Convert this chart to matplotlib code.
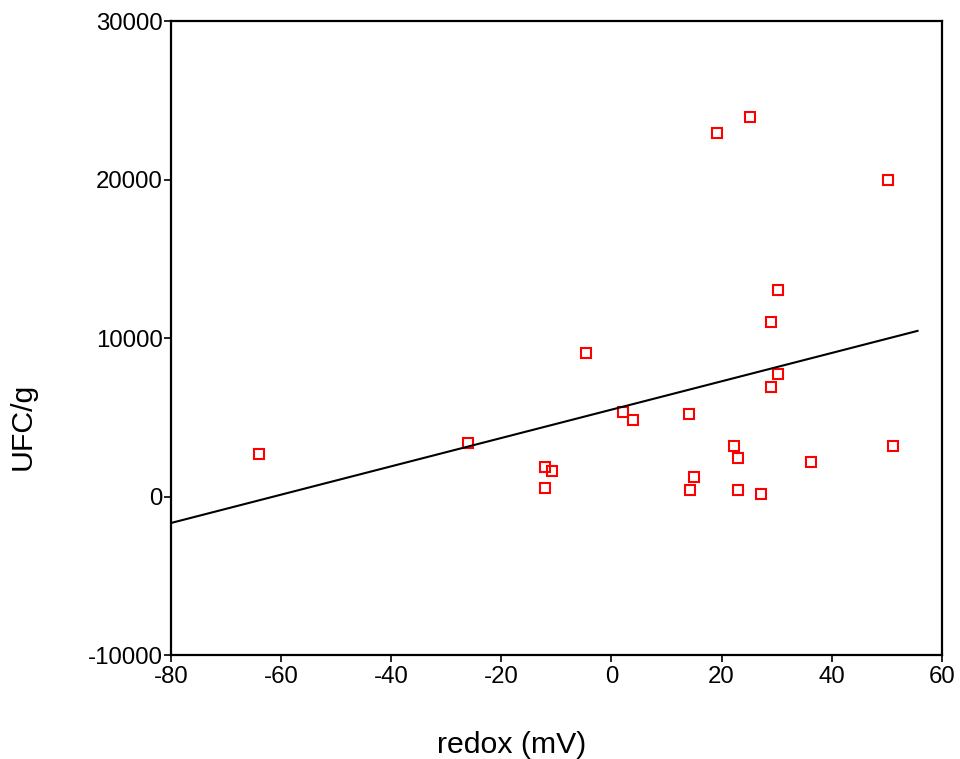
import numpy as np
import matplotlib
matplotlib.use('Agg')
import matplotlib.pyplot as plt

plt.rcParams['font.family'] = ['Liberation Sans', 'DejaVu Sans']

# redox (mV) vs UFC/g
redox = [-64.0, -26.0, -12.1, -10.8, -12.1, -4.6, 2.1, 3.9, 14.1, 14.2, 15.0, 19.2,
         25.1, 22.2, 23.0, 23.0, 27.1, 29.0, 30.2, 29.0, 30.2, 36.2, 50.2, 51.1]
ufc = [2700, 3400, 1860, 1610, 540, 9050, 5330, 4830, 5200, 410, 1230, 22930,
       23950, 3190, 2430, 410, 160, 11000, 13030, 6910, 7730, 2180, 19970, 3190]

# fitted line
fit_slope = 89.4
fit_intercept = 5480
fit_x = [-80, 55.6]

xticks = [-80, -60, -40, -20, 0, 20, 40, 60]
yticks = [-10000, 0, 10000, 20000, 30000]

fig = plt.figure(figsize=(9.6, 7.59), dpi=100)
ax = fig.add_axes([0.178, 0.137, 0.803, 0.8353])

ax.plot(redox, ufc, 's', ms=7.2, mfc='none', mec='#ff0000', mew=1.5, clip_on=False)
fx = np.array(fit_x)
ax.plot(fx, fit_slope * fx + fit_intercept, color='black', lw=1.5)

ax.set_xlim(-80, 60)
ax.set_ylim(-10000, 30000)
ax.set_xticks(xticks)
ax.set_yticks(yticks)
ax.set_xticklabels([str(v) for v in xticks])
ax.set_yticklabels([str(v) for v in yticks])
ax.tick_params(axis='both', direction='out', length=5, width=1.2, labelsize=17.3)
ax.tick_params(axis='y', pad=1)
ax.tick_params(axis='x', pad=3)
for s in ax.spines.values():
    s.set_linewidth(1.6)

ax.set_xlabel('redox (mV)', fontsize=21.8, va='center', ha='center')
ax.set_ylabel('UFC/g', fontsize=21.8, va='center', ha='center')
ax.xaxis.set_label_coords(0.442, -0.142)
ax.yaxis.set_label_coords(-0.1926, 0.361)

fig.savefig('out.png', dpi=100)
plt.close()
